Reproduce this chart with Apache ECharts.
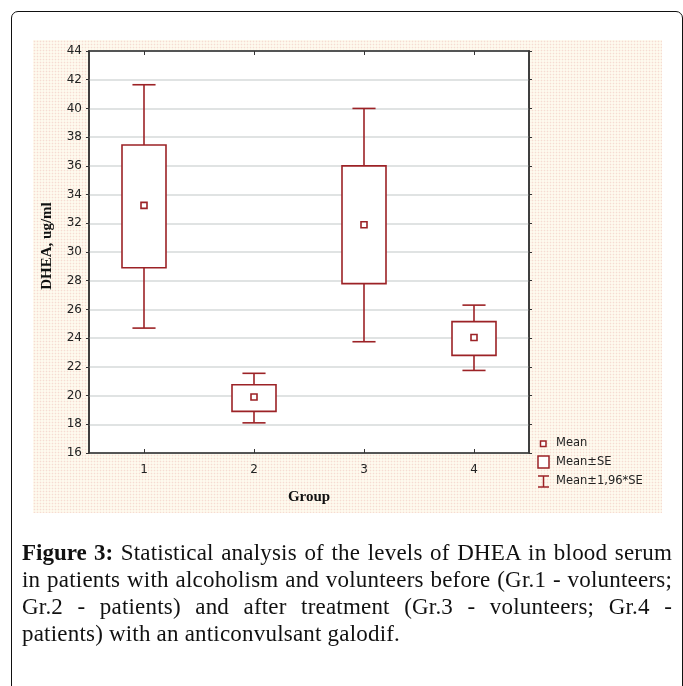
<!DOCTYPE html>
<html>
<head>
<meta charset="utf-8">
<script src="https://cdn.jsdelivr.net/npm/echarts@6/dist/echarts.min.js"></script>
<style>
  html, body { margin: 0; padding: 0; width: 683px; height: 686px; overflow: hidden; background: #fff; }
  #frame { position: absolute; left: 11px; top: 11px; width: 672px; height: 720px;
           border: 1.5px solid #111; border-radius: 7px; box-sizing: border-box; }
  #dots { position: absolute; left: 33px; top: 40px; width: 629px; height: 473px;
          background-color: #fefaee;
          background-image: radial-gradient(circle, #f6dcd2 0.7px, transparent 1.1px);
          background-size: 3px 3px; }
  #chart { position: absolute; left: 0; top: 0; width: 683px; height: 686px; }
  #caption { position: absolute; left: 22px; top: 539px; width: 650px;
             font-family: "Liberation Serif", "Times New Roman", serif; font-size: 23px;
             letter-spacing: 0.2px; line-height: 27px; color: #111; }
  #caption .ln { text-align: justify; text-align-last: justify; white-space: nowrap; }
  #caption .ln.last { text-align-last: left; }
  #caption b { font-weight: bold; letter-spacing: 0; }
</style>
</head>
<body>
<div id="frame"></div>
<div id="dots"></div>
<div id="chart"></div>
<div id="caption">
  <div class="ln"><b>Figure 3:</b> Statistical analysis of the levels of DHEA in blood serum</div>
  <div class="ln">in patients with alcoholism and volunteers before (Gr.1 - volunteers;</div>
  <div class="ln">Gr.2 - patients) and after treatment (Gr.3 - volunteers; Gr.4 -</div>
  <div class="ln last">patients) with an anticonvulsant galodif.</div>
</div>
<script>
// ---- data ----
const categories = ['1', '2', '3', '4'];
const whiskerLow = [24.7, 18.1, 23.75, 21.75];
const seLow = [28.9, 18.9, 27.8, 22.8];
const means = [33.25, 19.9, 31.9, 24.05];
const seHigh = [37.45, 20.75, 36.0, 25.15];
const whiskerHigh = [41.65, 21.55, 40.0, 26.3];
const yMin = 16, yMax = 44, yStep = 2;
const legendLabels = ['Mean', 'Mean\u00b1SE', 'Mean\u00b11,96*SE'];
const xTitle = 'Group';
const yTitle = 'DHEA, ug/ml';

const RED = '#9c2226';
const rows = categories.map((c, i) => [i, whiskerLow[i], seLow[i], means[i], seHigh[i], whiskerHigh[i]]);

function renderItem(params, api) {
  const x = api.value(0);
  const band = api.size([1, 0])[0];
  const bw = band * 0.4, cw = band * 0.21, ms = 6;
  const pWL = api.coord([x, api.value(1)]);
  const pSL = api.coord([x, api.value(2)]);
  const pM = api.coord([x, api.value(3)]);
  const pSH = api.coord([x, api.value(4)]);
  const pWH = api.coord([x, api.value(5)]);
  const cx = pM[0];
  const st = { stroke: RED, lineWidth: 1.6, fill: null };
  return {
    type: 'group',
    children: [
      { type: 'line', shape: { x1: cx, y1: pWH[1], x2: cx, y2: pSH[1] }, style: st },
      { type: 'line', shape: { x1: cx, y1: pSL[1], x2: cx, y2: pWL[1] }, style: st },
      { type: 'line', shape: { x1: cx - cw / 2, y1: pWH[1], x2: cx + cw / 2, y2: pWH[1] }, style: st },
      { type: 'line', shape: { x1: cx - cw / 2, y1: pWL[1], x2: cx + cw / 2, y2: pWL[1] }, style: st },
      { type: 'rect', shape: { x: cx - bw / 2, y: pSH[1], width: bw, height: pSL[1] - pSH[1] },
        style: { stroke: RED, lineWidth: 1.6, fill: '#fff' } },
      { type: 'rect', shape: { x: cx - ms / 2, y: pM[1] - ms / 2, width: ms, height: ms },
        style: { stroke: RED, lineWidth: 1.6, fill: '#fff' } }
    ]
  };
}

const chart = echarts.init(document.getElementById('chart'), null, { renderer: 'canvas' });
const SANS = 'DejaVu Sans, Verdana, sans-serif';
const lblFont = { fontFamily: SANS, fontSize: 12, color: '#222' };
const titleFont = { fontFamily: 'Liberation Serif, Times New Roman, serif', fontSize: 15, fontWeight: 'bold', color: '#111' };

const option = {
  backgroundColor: 'transparent',
  animation: false,
  grid: { left: 89, top: 51, width: 440, height: 402, show: true, backgroundColor: '#fff',
          borderColor: '#333', borderWidth: 1.5 },
  xAxis: [
    { type: 'category', data: categories, boundaryGap: true,
      name: xTitle, nameLocation: 'middle', nameGap: 37, nameTextStyle: titleFont,
      axisLine: { show: true, lineStyle: { color: '#333', width: 1.5 } },
      axisTick: { show: true, inside: true, length: 4, alignWithLabel: true, lineStyle: { color: '#333' } },
      axisLabel: Object.assign({ margin: 11 }, lblFont),
      splitLine: { show: false } },
    { type: 'category', data: categories, position: 'top', boundaryGap: true,
      axisLine: { show: true, lineStyle: { color: '#333', width: 1.5 } },
      axisTick: { show: true, inside: true, length: 4, alignWithLabel: true, lineStyle: { color: '#333' } },
      axisLabel: { show: false }, splitLine: { show: false } }
  ],
  yAxis: [
    { type: 'value', min: yMin, max: yMax, interval: yStep,
      axisLine: { show: true, lineStyle: { color: '#333', width: 1.5 } },
      axisTick: { show: true, length: 3, lineStyle: { color: '#333' } },
      axisLabel: Object.assign({ margin: 7 }, lblFont),
      splitLine: { show: true, lineStyle: { color: '#d6dada', width: 1.5 } } },
    { type: 'value', min: yMin, max: yMax, interval: yStep, position: 'right',
      axisLine: { show: true, lineStyle: { color: '#333', width: 1.5 } },
      axisTick: { show: true, length: 3, lineStyle: { color: '#333' } },
      axisLabel: { show: false }, splitLine: { show: false } }
  ],
  series: [{
    type: 'custom', renderItem: renderItem, data: rows,
    encode: { x: 0, y: [1, 2, 3, 4, 5] }, clip: false
  }],
  graphic: [
    { type: 'text', x: 47, y: 246, rotation: Math.PI / 2,
      style: { text: yTitle, align: 'center', verticalAlign: 'middle', fill: '#111',
               font: 'bold 15px "Liberation Serif", "Times New Roman", serif' } },
    { type: 'rect', shape: { x: 540.5, y: 441, width: 5.5, height: 5.5 }, style: { stroke: RED, lineWidth: 1.5, fill: '#fff' } },
    { type: 'text', x: 556, y: 443.5, style: { text: legendLabels[0], verticalAlign: 'middle', fill: '#222', font: '11.5px "DejaVu Sans", Verdana, sans-serif' } },
    { type: 'rect', shape: { x: 538, y: 456, width: 11, height: 12 }, style: { stroke: RED, lineWidth: 1.5, fill: '#fff' } },
    { type: 'text', x: 556, y: 462, style: { text: legendLabels[1], verticalAlign: 'middle', fill: '#222', font: '11.5px "DejaVu Sans", Verdana, sans-serif' } },
    { type: 'line', shape: { x1: 543.5, y1: 476, x2: 543.5, y2: 487 }, style: { stroke: RED, lineWidth: 1.5 } },
    { type: 'line', shape: { x1: 538, y1: 476, x2: 549, y2: 476 }, style: { stroke: RED, lineWidth: 1.5 } },
    { type: 'line', shape: { x1: 538, y1: 487, x2: 549, y2: 487 }, style: { stroke: RED, lineWidth: 1.5 } },
    { type: 'text', x: 556, y: 481, style: { text: legendLabels[2], verticalAlign: 'middle', fill: '#222', font: '11.5px "DejaVu Sans", Verdana, sans-serif' } }
  ]
};
chart.setOption(option);
</script>
</body>
</html>
